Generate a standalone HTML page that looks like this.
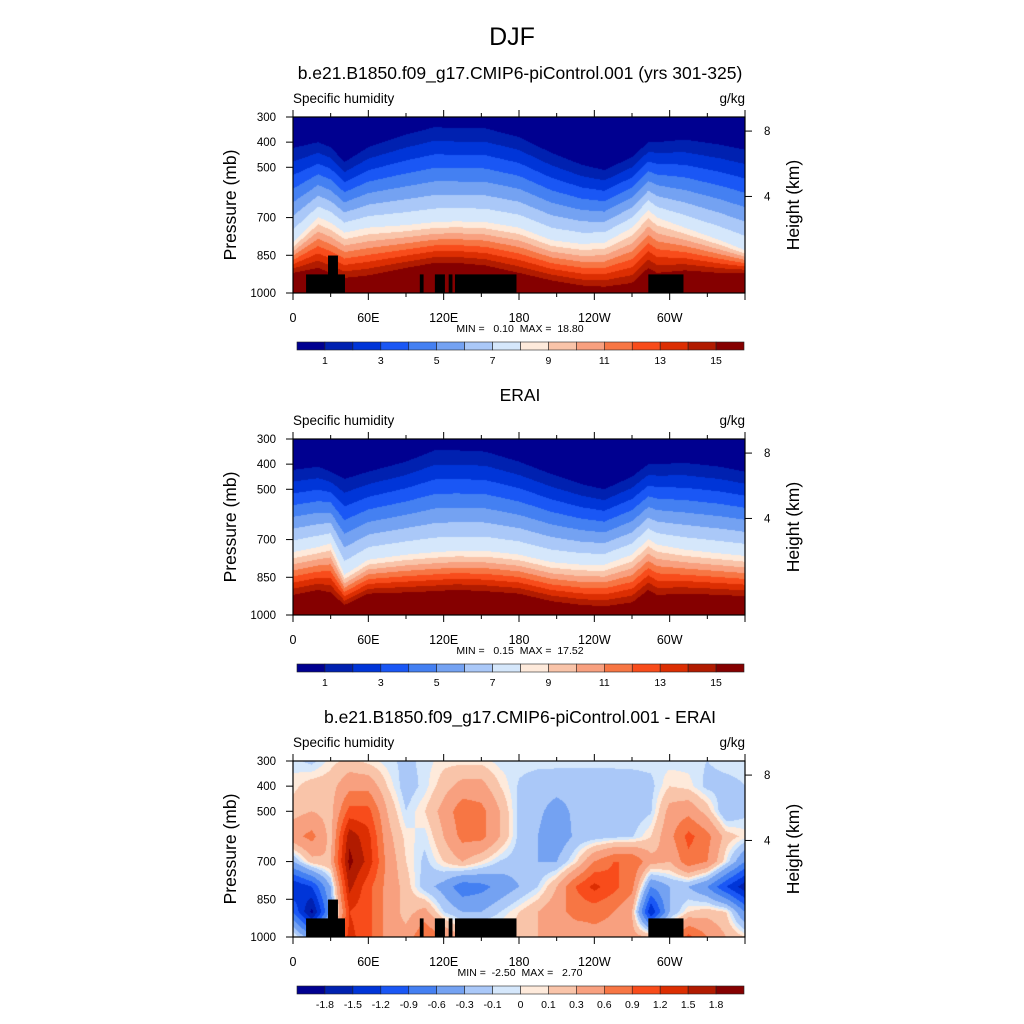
<!DOCTYPE html>
<html><head><meta charset="utf-8">
<style>
body{margin:0;background:#fff;width:1024px;height:1024px;overflow:hidden;font-family:"Liberation Sans",sans-serif}
#wrap{position:relative;width:1024px;height:1024px}
canvas{position:absolute}
svg{position:absolute;left:0;top:0}
text{white-space:pre}
</style></head><body>
<div id="wrap">
<canvas id="c1" width="452" height="176" style="left:293px;top:117px"></canvas>
<canvas id="c2" width="452" height="176" style="left:293px;top:439px"></canvas>
<canvas id="c3" width="452" height="176" style="left:293px;top:761px"></canvas>
<svg id="svg" width="1024" height="1024"></svg>
</div>
<script>
// ---- data ----
const colors=["#000090","#0021b0","#0035d8","#1a57f5","#4480f2","#74a2f2","#aac8f8","#d5e7fb","#feeadb","#f9c4a9","#f8a07f","#f77644","#f84c1b","#dc2e02","#b11b00","#850000"];
const absLabels=["1","3","5","7","9","11","13","15"];
const diffBounds=[-1.8,-1.5,-1.2,-0.9,-0.6,-0.3,-0.1,0,0.1,0.3,0.6,0.9,1.2,1.5,1.8];
const diffLabels=["-1.8","-1.5","-1.2","-0.9","-0.6","-0.3","-0.1","0","0.1","0.3","0.6","0.9","1.2","1.5","1.8"];
const lonTicks=[0,60,120,180,240,300];
const lonLabels=["0","60E","120E","180","120W","60W"];
const presTicks=[300,400,500,700,850,1000];
const heightTicks=[8,4];
const heightTickPres=[356,616];
// absolute-humidity panels: pressure where q=1, q=8, q=15 g/kg at each longitude
const absLons=[0,20,30,41,60,90,113,130,153,180,206,230,248,270,283,290,312,340,360];
const modelP1=[423,400,420,479,420,370,340,345,345,380,443,490,511,460,400,400,390,410,430];
const modelP8=[801,698,720,760,740,730,718,715,718,740,790,805,800,740,670,700,740,790,830];
const modelP15=[920,900,920,940,930,900,880,880,890,920,950,970,975,960,900,920,910,920,920];
const eraiP1=[423,410,430,459,430,390,345,345,350,390,440,480,500,450,400,400,395,410,430];
const eraiP8=[750,730,715,840,780,760,750,745,745,760,790,800,800,760,698,720,740,755,765];
const eraiP15=[920,900,910,960,915,910,905,900,905,915,945,960,965,950,900,920,915,920,925];
// difference grid
const diffLons=[0,15,30,45,60,75,90,105,120,135,150,165,180,195,210,225,240,255,270,285,300,315,330,345,360];
const diffPres=[300,400,500,600,700,800,900,1000];
const diffP300=[-0.05,-0.15,0.05,0.15,0.05,-0.05,-0.15,-0.05,0.05,0.05,0.05,-0.05,-0.05,-0.05,-0.05,-0.05,-0.05,-0.05,-0.05,-0.05,-0.05,-0.05,-0.1,-0.05,-0.05];
const diffP400=[0.05,0.2,0.2,0.5,0.5,0.1,-0.2,-0.05,0.2,0.4,0.4,0.1,-0.12,-0.2,-0.22,-0.22,-0.22,-0.22,-0.2,-0.15,0.1,0.05,-0.15,-0.15,-0.1];
const diffP500=[0.2,0.3,0.2,1.0,1.0,0.3,-0.1,0.1,0.4,0.8,0.7,0.3,-0.15,-0.25,-0.4,-0.25,-0.22,-0.22,-0.22,-0.12,0.4,0.5,0.2,-0.3,-0.15];
const diffP600=[0.5,0.7,0.2,1.7,1.3,0.4,0.05,-0.05,0.3,0.7,0.7,0.3,-0.15,-0.3,-0.5,-0.25,-0.2,-0.15,-0.12,0.1,0.5,1.0,0.7,0.2,0.05];
const diffP700=[-0.3,0.2,0.3,1.9,1.4,0.5,0.1,-0.15,0.1,0.3,0.1,-0.12,-0.2,-0.3,-0.3,0.05,0.6,0.9,0.9,0.4,0.3,0.8,0.6,0.0,-0.6];
const diffP800=[-1.5,-1.2,-0.3,1.6,1.0,0.5,0.2,-0.2,-0.4,-0.8,-0.7,-0.5,-0.3,-0.1,0.3,0.9,1.3,1.0,0.7,-0.6,-0.3,-0.3,-0.6,-1.2,-1.7];
const diffP900=[-0.9,-1.9,-0.5,1.2,1.0,0.5,0.2,0.4,-0.1,-0.3,-0.3,-0.1,0.1,0.3,0.5,0.7,0.7,0.6,0.3,-1.5,-0.3,0.1,0.2,0.1,-0.6];
const diffP1000=[0.1,-0.5,0.5,1.3,1.0,0.5,0.4,0.9,0.6,0.3,0.3,0.2,0.2,0.3,0.3,0.4,0.5,0.5,0.4,0.3,0.5,1.0,0.6,0.3,0.1];
// topography blocks: lon start, lon end, top pressure
const topoStart=[10.4,27.9,101,113,124,129,283];
const topoEnd=[41.4,35.8,104,121,127,178,311];
const topoTop=[926,851,926,926,926,926,926];

// ---- scales ----
const PX=293,PW=452,PH=176;
const panelTops=[117,439,761];
const xOf=lon=>PX+lon/360*PW;
const yOf=(p,top)=>top+(p-300)/700*PH;
function interp(xs,ys,x){
  if(x<=xs[0])return ys[0];
  for(let i=1;i<xs.length;i++){if(x<=xs[i]){const t=(x-xs[i-1])/(xs[i]-xs[i-1]);return ys[i-1]+t*(ys[i]-ys[i-1]);}}
  return ys[ys.length-1];
}
function absQ(p,a,b,c){
  if(p<a)return 0.2+0.8*(p-300)/Math.max(a-300,1);
  if(p<b)return 1+7*(p-a)/(b-a);
  if(p<c)return 8+7*(p-b)/(c-b);
  return 15+3*(p-c)/Math.max(1000-c,1);
}
function drawAbs(id,P1,P8,P15){
  const ctx=document.getElementById(id).getContext('2d');
  for(let i=0;i<PW;i++){
    const lon=(i+0.5)/PW*360;
    const a=interp(absLons,P1,lon),b=interp(absLons,P8,lon),c=interp(absLons,P15,lon);
    for(let j=0;j<PH;j++){
      const p=300+(j+0.5)/PH*700;
      let k=Math.floor(absQ(p,a,b,c));k=Math.max(0,Math.min(15,k));
      ctx.fillStyle=colors[k];ctx.fillRect(i,j,1,1);
    }
  }
}
function drawDiff(id){
  const rows=[diffP300,diffP400,diffP500,diffP600,diffP700,diffP800,diffP900,diffP1000];
  const ctx=document.getElementById(id).getContext('2d');
  for(let i=0;i<PW;i++){
    const lon=(i+0.5)/PW*360;
    const col=rows.map(r=>interp(diffLons,r,lon));
    for(let j=0;j<PH;j++){
      const p=300+(j+0.5)/PH*700;
      const v=interp(diffPres,col,p);
      let k=0;while(k<diffBounds.length&&v>=diffBounds[k])k++;
      ctx.fillStyle=colors[k];ctx.fillRect(i,j,1,1);
    }
  }
}
drawAbs('c1',modelP1,modelP8,modelP15);
drawAbs('c2',eraiP1,eraiP8,eraiP15);
drawDiff('c3');

// ---- svg overlay ----
const svg=document.getElementById('svg');
const NS='http://www.w3.org/2000/svg';
function mk(tag,attrs,parent){const e=document.createElementNS(NS,tag);for(const k in attrs)e.setAttribute(k,attrs[k]);(parent||svg).appendChild(e);return e;}
function txt(s,x,y,size,anchor,parent){const t=mk('text',{x:x,y:y,'font-size':size,'text-anchor':anchor||'middle',fill:'#000','font-family':'Liberation Sans, sans-serif'},parent);t.textContent=s;return t;}

let t;
t=txt('DJF',512,45,25);
const titles=['b.e21.B1850.f09_g17.CMIP6-piControl.001 (yrs 301-325)','ERAI','b.e21.B1850.f09_g17.CMIP6-piControl.001 - ERAI'];
const minmax=['MIN =   0.10  MAX =  18.80','MIN =   0.15  MAX =  17.52','MIN =  -2.50  MAX =   2.70'];
const panelNames=['model','erai','difference'];
for(let n=0;n<3;n++){
  const top=panelTops[n];
  const g=mk('g',{});
  
  
  t=txt(titles[n],520,top-38,17.5,'middle',g);
  t=txt('Specific humidity',293,top-14,13.5,'start',g);
  t=txt('g/kg',745,top-14,13.5,'end',g);
  if(n!==1){
    for(let k=0;k<topoStart.length;k++){
      const r=mk('rect',{x:xOf(topoStart[k]),y:yOf(topoTop[k],top),width:xOf(topoEnd[k])-xOf(topoStart[k]),height:top+PH-yOf(topoTop[k],top),fill:'#000'},g);
      
      
    }
  }
  const fr=mk('rect',{x:PX,y:top,width:PW,height:PH,fill:'none',stroke:'#000','stroke-width':1.2},g);
  
  for(let lon=0;lon<=360;lon+=30){
    const x=xOf(lon),maj=lon%60===0;
    const L=maj?7:4;
    mk('line',{x1:x,y1:top+PH,x2:x,y2:top+PH+L,stroke:'#000','stroke-width':1},g);
    mk('line',{x1:x,y1:top,x2:x,y2:top-L,stroke:'#000','stroke-width':1},g);
  }
  for(let k=0;k<lonTicks.length;k++){
    t=txt(lonLabels[k],xOf(lonTicks[k]),top+PH+29,12.5,'middle',g);
    
  }
  for(let k=0;k<presTicks.length;k++){
    const y=yOf(presTicks[k],top);
    mk('line',{x1:PX,y1:y,x2:PX-7,y2:y,stroke:'#000','stroke-width':1},g);
    t=txt(String(presTicks[k]),276,y+4,11.5,'end',g);
    
  }
  for(let k=0;k<heightTicks.length;k++){
    const y=yOf(heightTickPres[k],top);
    mk('line',{x1:PX+PW,y1:y,x2:PX+PW+7,y2:y,stroke:'#000','stroke-width':1},g);
    t=txt(String(heightTicks[k]),764,y+4,11.5,'start',g);
    
  }
  t=txt('Pressure (mb)',0,0,17.5,'middle',g);
  t.setAttribute('transform','translate(236,'+(top+PH/2)+') rotate(-90)');
  
  t=txt('Height (km)',0,0,17.5,'middle',g);
  t.setAttribute('transform','translate(799,'+(top+PH/2)+') rotate(-90)');
  
  t=txt(minmax[n],520,top+PH+39,10.5,'middle',g);
  
  const cb=mk('g',{},g);
  
  const cy=top+PH+49,cx=297,cw=447/16;
  for(let k=0;k<16;k++){
    const r=mk('rect',{x:cx+k*cw,y:cy,width:cw,height:8,fill:colors[k],stroke:'#222','stroke-width':0.6},cb);
    
  }
  if(n<2){
    for(let k=0;k<absLabels.length;k++){
      t=txt(absLabels[k],cx+(1+2*k)*cw,cy+22,10.5,'middle',cb);
      
    }
  }else{
    for(let k=0;k<diffLabels.length;k++){
      t=txt(diffLabels[k],cx+(1+k)*cw,cy+22,10.5,'middle',cb);
      
    }
  }
}
</script>
</body></html>
